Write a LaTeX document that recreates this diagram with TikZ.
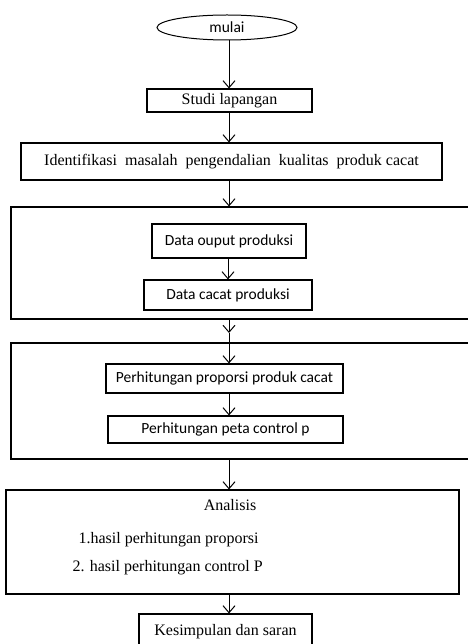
\documentclass[tikz,border=0pt]{standalone}
\usepackage{fontspec}
\setmainfont{Liberation Serif}
\newfontfamily\carlito{Carlito}
\usetikzlibrary{arrows.meta,shapes.geometric}

\begin{document}
\begin{tikzpicture}[x=1pt,y=-1pt,
	kotak/.style={draw,line width=1.1pt,inner sep=0pt},
	serif/.style={font=\fontsize{16}{18}\selectfont},
	sans/.style={font=\carlito\fontsize{15.5}{18}\selectfont},
	panah/.style={-{Straight Barb[length=7pt,width=12pt]},line width=1pt}]
	\useasboundingbox (0,0) rectangle (467,644);
	
	% awal
	\node[draw,ellipse,line width=1pt,minimum width=140pt,minimum height=25pt,inner sep=0pt,sans] (mulai) at (227,27.5) {mulai};
	\node[kotak,minimum width=165pt,minimum height=23pt,serif] (studi) at (229.5,100.5) {Studi lapangan};
	\node[kotak,minimum width=421pt,minimum height=37pt,serif] (ident) at (231.5,161.5) {Identifikasi\ \ masalah\ \ pengendalian\ \ kualitas\ \ produk cacat};
	
	% pengumpulan data
	\node[kotak,minimum width=490pt,minimum height=112pt] (frame1) at (256,263) {};
	\node[kotak,minimum width=154pt,minimum height=34pt,sans] (ouput) at (229,241) {Data ouput produksi};
	\node[kotak,minimum width=168pt,minimum height=30pt,sans] (cacat) at (228,295) {Data cacat produksi};
	
	% pengolahan data
	\node[kotak,minimum width=490pt,minimum height=116pt] (frame2) at (256,401) {};
	\node[kotak,minimum width=237pt,minimum height=29pt,sans] (proporsi) at (224.5,378.5) {Perhitungan proporsi produk cacat};
	\node[kotak,minimum width=235pt,minimum height=27pt,sans] (peta) at (225.5,429.5) {Perhitungan peta control p};
	
	% analisis
	\node[kotak,minimum width=453pt,minimum height=104pt] (analisis) at (232.5,542) {};
	\node[serif] (judul) at (230,505) {Analisis};
	\node[serif,anchor=west] (hasil1) at (75,540) {1.hasil perhitungan proporsi};
	\node[serif,anchor=west] (hasil2) at (69,568) {2. hasil perhitungan control P};
	\node[kotak,minimum width=173pt,minimum height=36pt,serif] (simpul) at (225.5,632) {Kesimpulan dan saran};
	
	% panah
	\coordinate (mid) at (229,333);
	\draw[panah] (mid |- mulai.south) -- (mid |- studi.north);
	\draw[panah] (mid |- studi.south) -- (mid |- ident.north);
	\draw[panah] (mid |- ident.south) -- (mid |- frame1.north);
	\draw[panah] (ouput.south -| cacat) -- (cacat.north);
	\draw[panah] (mid |- frame1.south) -- (mid);
	\draw[panah] (mid) -- (mid |- proporsi.north);
	\draw[panah] (proporsi.south -| mid) -- (mid |- peta.north);
	\draw[panah] (mid |- frame2.south) -- (mid |- analisis.north);
	\draw[panah] (mid |- analisis.south) -- (mid |- simpul.north);
\end{tikzpicture}
\end{document}
